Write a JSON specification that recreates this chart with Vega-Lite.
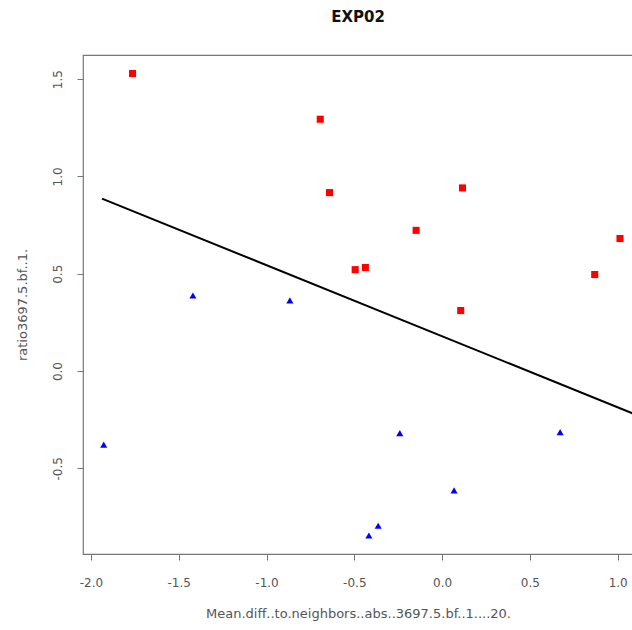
{
  "$schema": "https://vega.github.io/schema/vega-lite/v6.json",
  "autosize": {"type": "none"},
  "padding": {"left": 83, "top": 55, "right": 0, "bottom": 76},
  "width": 550,
  "height": 499,
  "background": "white",
  "title": {"text": "EXP02", "font": "DejaVu Sans", "fontSize": 15, "fontWeight": "bold", "color": "#111", "anchor": "middle", "offset": 18, "baseline": "alphabetic"},
  "config": {
    "view": {"stroke": "#777", "strokeWidth": 1.2},
    "axis": {"grid": false, "domain": false, "tickColor": "#777", "tickSize": 6, "tickWidth": 1,
      "labelFont": "DejaVu Sans", "labelFontSize": 12, "labelColor": "#555",
      "titleFont": "DejaVu Sans", "titleFontSize": 13, "titleFontWeight": "normal", "titleColor": "#555"}
  },
  "datasets": {
    "pts": [
      {"x": -1.763, "y": 1.529, "group": "high"},
      {"x": -0.694, "y": 1.294, "group": "high"},
      {"x": -0.641, "y": 0.917, "group": "high"},
      {"x": 0.116, "y": 0.941, "group": "high"},
      {"x": -0.148, "y": 0.723, "group": "high"},
      {"x": 1.013, "y": 0.681, "group": "high"},
      {"x": -0.495, "y": 0.521, "group": "high"},
      {"x": -0.437, "y": 0.532, "group": "high"},
      {"x": 0.869, "y": 0.496, "group": "high"},
      {"x": 0.106, "y": 0.311, "group": "high"},
      {"x": -1.927, "y": -0.378, "group": "low"},
      {"x": -1.419, "y": 0.388, "group": "low"},
      {"x": -0.867, "y": 0.363, "group": "low"},
      {"x": -0.241, "y": -0.319, "group": "low"},
      {"x": 0.672, "y": -0.314, "group": "low"},
      {"x": 0.068, "y": -0.613, "group": "low"},
      {"x": -0.364, "y": -0.795, "group": "low"},
      {"x": -0.417, "y": -0.845, "group": "low"}
    ],
    "fit": [
      {"x": -1.937, "y": 0.886},
      {"x": 1.131, "y": -0.234}
    ]
  },
  "layer": [
    {
      "data": {"name": "fit"},
      "mark": {"type": "line", "color": "black", "strokeWidth": 2, "clip": true},
      "encoding": {
        "x": {"field": "x", "type": "quantitative", "scale": {"domain": [-2.045, 1.087], "nice": false, "zero": false},
          "axis": {"values": [-2, -1.5, -1, -0.5, 0, 0.5, 1], "format": ".1f", "labelExpr": "replace(datum.label, '−', '-')", "labelPadding": 17, "title": "Mean.diff..to.neighbors..abs..3697.5.bf..1....20.", "titlePadding": 19, "labelFlush": false}},
        "y": {"field": "y", "type": "quantitative", "scale": {"domain": [-0.94, 1.624], "nice": false, "zero": false},
          "axis": {"values": [-0.5, 0, 0.5, 1, 1.5], "format": ".1f", "labelExpr": "replace(datum.label, '−', '-')", "labelAngle": -90, "labelAlign": "center", "labelBaseline": "bottom", "labelPadding": 13, "title": "ratio3697.5.bf..1.", "titlePadding": 22, "labelFlush": false}}
      }
    },
    {
      "data": {"name": "pts"},
      "mark": {"type": "point", "filled": true, "opacity": 1, "size": 50, "clip": true},
      "encoding": {
        "x": {"field": "x", "type": "quantitative"},
        "y": {"field": "y", "type": "quantitative"},
        "color": {"field": "group", "type": "nominal", "scale": {"domain": ["high", "low"], "range": ["#ff0000", "#0000ff"]}, "legend": null},
        "shape": {"field": "group", "type": "nominal", "scale": {"domain": ["high", "low"], "range": ["square", "triangle-up"]}, "legend": null}
      }
    }
  ]
}
